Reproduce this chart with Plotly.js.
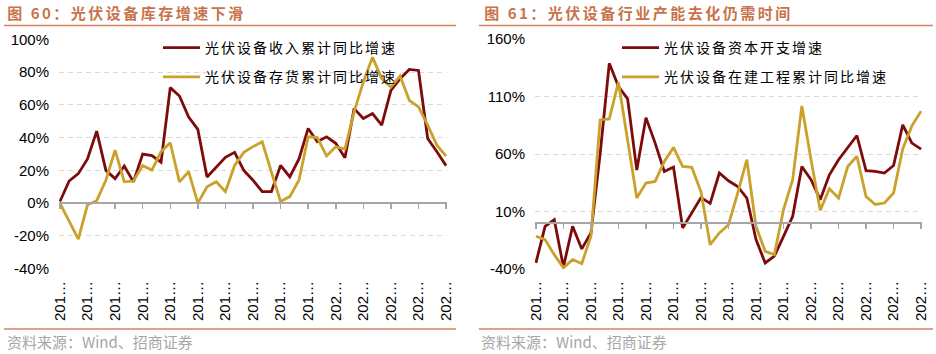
<!DOCTYPE html>
<html><head><meta charset="utf-8">
<script src="https://cdn.plot.ly/plotly-3.0.1.min.js"></script>
<style>
html,body{margin:0;padding:0;background:#fff;}
#wrap{position:relative;width:936px;height:354px;overflow:hidden;}
#c1{position:absolute;left:0;top:0;width:468px;height:354px;}
#c2{position:absolute;left:468px;top:0;width:468px;height:354px;}
.legendtext{letter-spacing:2px;}
g.annotation[data-index="0"] text{letter-spacing:2.5px;}
</style></head>
<body><div id="wrap"><div id="c1"></div><div id="c2"></div></div>
<script>
// quarterly categories (2012Q3 - 2023Q1)
const categories = ["2012-09","2012-12","2013-03","2013-06","2013-09","2013-12","2014-03","2014-06","2014-09","2014-12",
  "2015-03","2015-06","2015-09","2015-12","2016-03","2016-06","2016-09","2016-12","2017-03","2017-06",
  "2017-09","2017-12","2018-03","2018-06","2018-09","2018-12","2019-03","2019-06","2019-09","2019-12",
  "2020-03","2020-06","2020-09","2020-12","2021-03","2021-06","2021-09","2021-12","2022-03","2022-06",
  "2022-09","2022-12","2023-03"];
const tickCategories = ["2012-09","2013-06","2014-03","2014-12","2015-09","2016-06","2017-03","2017-12","2018-09","2019-06",
  "2020-03","2020-12","2021-09","2022-06","2023-03"];
const tickLabels = ["201…","201…","201…","201…","201…","201…","201…","201…","201…","201…","202…","202…","202…","202…","202…"];

// chart 60
const revenueGrowth = [1,13.5,18,27,44,20,15,22.7,13,30,29,25,70.5,65.4,52.6,45,16,22,28,31,20,14,7,7,23,16,27,45.6,37.5,40.5,36.5,27.7,57.7,51.7,54.7,47.6,68.9,76,81.6,81,39.5,31.4,22.9];
const inventoryGrowth = [0,-11,-22,-1,1.5,14,32.4,13,13.5,22.9,20.2,31.4,36.9,13,19.2,0,10,13,7,23,31,34.5,37.5,19,1,4,14,40.5,40,28.8,34.4,33,55.7,74,89,76,70.9,77.6,62.8,58.7,47.6,35.4,28.8];
const leftNames = ["光伏设备收入累计同比增速","光伏设备存货累计同比增速"];
const leftYTicks = [-40,-20,0,20,40,60,80,100];
const leftYLabels = ["-40%","-20%","0%","20%","40%","60%","80%","100%"];
const leftTitle = "图 60：光伏设备库存增速下滑";

// chart 61
const capexGrowth = [-34.9,-3,2.8,-38.4,-3,-22.7,-8.8,60,139,118.7,108,46,91.7,69.5,44.8,48.6,-4.4,9,22,17,43.4,36.7,31.7,21.6,-14.6,-34.9,-29,-11.7,5.7,49.1,37.6,20.2,41.9,55,65.1,76.1,45.4,44.8,43.4,50,85.4,69.5,64.3];
const cipGrowth = [-11.7,-14.6,-27.7,-39.2,-32,-35.5,-11.7,89.7,90.6,122.5,72,21.6,34.7,36.1,53.5,65.7,49.1,48.3,27,-19,-8.8,-1.6,26,55,-3,-24.8,-27.7,11.5,37.6,101.9,55,10.9,29.7,21.6,49.1,58,23,16,17.3,26,64.5,84.5,97.3];
const rightNames = ["光伏设备资本开支增速","光伏设备在建工程累计同比增速"];
const rightYTicks = [-40,10,60,110,160];
const rightYLabels = ["-40%","10%","60%","110%","160%"];
const rightTitle = "图 61：光伏设备行业产能去化仍需时间";

const sourceText = "资料来源：Wind、招商证券";
const TITLE_SPACING = 2.5;

function build(el, s1, s2, names, yTicks, yLabels, title, o) {
  const W = 468, H = 354, T = 39, B = 85;
  const pw = W - o.L - o.R, ph = H - T - B;
  const px = x => (x - o.L) / pw;
  const py = y => (H - B - y) / ph;
  const yr = [yTicks[0] - 0.2, yTicks[yTicks.length - 1] + 0.2];
  const zeroPos = (0 - yr[0]) / (yr[1] - yr[0]);
  const xr = [-0.1, categories.length - 1 + 0.1];
  // letter-spacing is applied by CSS after Plotly measured the text, so compensate the centring
  const titleShift = title.length * TITLE_SPACING / 2;
  const traces = [
    {x: categories, y: s1, name: names[0], type: 'scatter', mode: 'lines', legendgroup: 'a',
     line: {color: '#7E0B0B', width: 2.8}, hoverinfo: 'skip'},
    {x: categories, y: s2, name: names[1], type: 'scatter', mode: 'lines', legendgroup: 'b',
     line: {color: '#C9A12B', width: 2.8}, hoverinfo: 'skip'},
    {x: categories, y: s1, xaxis: 'x2', type: 'scatter', mode: 'none', showlegend: false, hoverinfo: 'skip'}
  ];
  const layout = {
    width: W, height: H,
    margin: {l: o.L, r: o.R, t: T, b: B, pad: 0},
    paper_bgcolor: '#ffffff', plot_bgcolor: '#ffffff',
    font: {family: 'Liberation Sans, Arial, sans-serif', size: 15, color: '#000'},
    showlegend: true,
    legend: {x: px(o.legX), xanchor: 'left', y: py(o.legY), yanchor: 'top',
      bgcolor: 'rgba(0,0,0,0)', borderwidth: 0, tracegroupgap: 8, itemwidth: 37,
      font: {family: 'Noto Sans CJK SC', size: 14, color: '#000'}},
    xaxis: {type: 'category', range: xr, showgrid: false, showline: false, zeroline: false,
      ticks: '', tickvals: tickCategories, ticktext: tickLabels, tickangle: -90,
      ticklabelstandoff: 8, tickfont: {size: 15, color: '#000'}},
    xaxis2: {type: 'category', overlaying: 'x', anchor: 'free', position: zeroPos, range: xr,
      showgrid: false, showline: true, linecolor: '#a6a6a6', linewidth: 2, zeroline: false,
      ticks: 'outside', ticklen: 5, tickwidth: 1.5, tickcolor: '#a6a6a6',
      tickvals: tickCategories, showticklabels: false},
    yaxis: {range: yr, tickvals: yTicks, ticktext: yLabels, showgrid: true, gridcolor: '#d9d9d9',
      griddash: '5px,4px', gridwidth: 1, zeroline: false, showline: false, ticks: '',
      ticklabelstandoff: 9, tickfont: {size: 15, color: '#000'}},
    annotations: [
      {text: '<b>' + title + '</b>', xref: 'paper', yref: 'paper', x: px(o.titleX + titleShift), y: py(13),
       xanchor: 'left', yanchor: 'middle', showarrow: false,
       font: {family: 'Noto Sans CJK SC', size: 15, color: '#C8734B'}},
      {text: sourceText, xref: 'paper', yref: 'paper', x: px(o.footX), y: py(341),
       xanchor: 'left', yanchor: 'middle', showarrow: false,
       font: {family: 'Noto Sans CJK SC', size: 15, color: '#a6a6a6'}}
    ],
    shapes: [
      {type: 'line', xref: 'paper', yref: 'paper', x0: px(o.lx0), x1: px(o.lx1), y0: py(25.5), y1: py(25.5),
       line: {color: '#D6835F', width: 1.5}},
      {type: 'line', xref: 'paper', yref: 'paper', x0: px(o.lx0), x1: px(o.lx1), y0: py(329), y1: py(329),
       line: {color: '#D6835F', width: 1.5}}
    ]
  };
  return Plotly.newPlot(el, traces, layout, {staticPlot: true, displayModeBar: false});
}

build('c1', revenueGrowth, inventoryGrowth, leftNames, leftYTicks, leftYLabels, leftTitle,
  {L: 59, R: 21, titleX: 5, footX: 5, lx0: 4, lx1: 456, legX: 158, legY: 32});
build('c2', capexGrowth, cipGrowth, rightNames, rightYTicks, rightYLabels, rightTitle,
  {L: 67, R: 14, titleX: 14, footX: 11, lx0: 11, lx1: 465, legX: 149, legY: 32});
</script>
</body></html>
